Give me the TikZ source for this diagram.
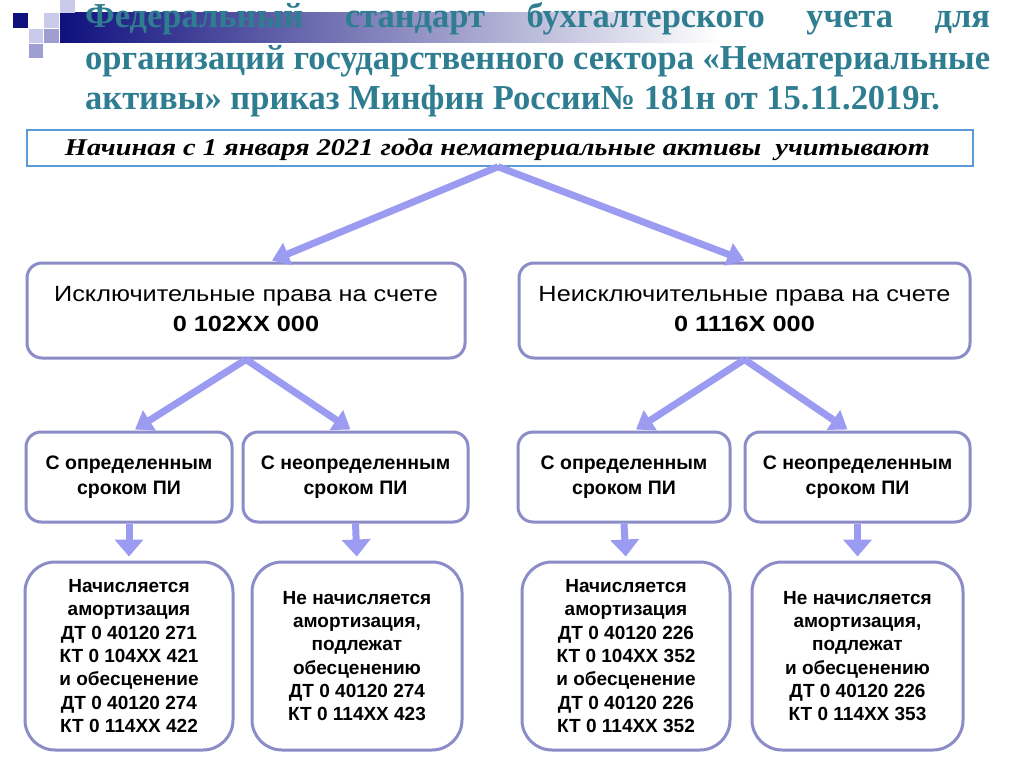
\documentclass[tikz,border=0pt]{standalone}
\usepackage{fontspec}
\usepackage{graphicx}
\setmainfont{Liberation Sans}
\newfontfamily\tserif{Liberation Serif}
\usetikzlibrary{arrows.meta,calc}
\definecolor{titlec}{HTML}{2E7D91}
\definecolor{navyc}{HTML}{10107E}
\definecolor{lightsq}{HTML}{CACAEA}
\definecolor{medsq}{HTML}{9E9ED2}
\definecolor{hdrblue}{HTML}{5B9BD5}
\definecolor{boxc}{HTML}{8C8CC8}
\definecolor{arrc}{HTML}{9B9BF2}
\newsavebox\tlineb
\newsavebox\hdrb
\newcommand\tfnt{\tserif\bfseries\fontsize{35}{41}\selectfont}
\newcommand\wideone[2]{\scalebox{1.15}[1]{\begin{tabular}{@{}c@{}}#1\\\textbf{#2}\end{tabular}}}
\tikzset{
  lvlone/.style={draw=boxc, line width=3pt, rounded corners=15pt, fill=white, minimum height=95pt, align=center, inner sep=0pt, font=\fontsize{22}{29.5}\selectfont},
  lvltwo/.style={draw=boxc, line width=3pt, rounded corners=15pt, fill=white, minimum height=90pt, align=center, inner sep=0pt, font=\bfseries\fontsize{19.5}{25}\selectfont},
  lvlthree/.style={draw=boxc, line width=3pt, rounded corners=30pt, fill=white, minimum height=188pt, align=center, inner sep=0pt, font=\bfseries\fontsize{19}{23.3}\selectfont},
  diagarr/.style={draw=arrc, line width=7pt, -{Triangle[width=23pt,length=17pt]}},
  vertarr/.style={draw=arrc, line width=7pt, -{Triangle[width=28pt,length=17pt]}, shorten >=4pt},
  titletext/.style={anchor=base west, inner sep=0pt, text=titlec}
}
\begin{document}
\global\setbox\tlineb=\hbox{\tfnt организаций государственного сектора «Нематериальные}%
\global\setbox\hdrb=\hbox{\tserif\bfseries\itshape\fontsize{24}{28}\selectfont Начиная с 1 января 2021 года нематериальные активы~ учитывают}%
\begin{tikzpicture}[x=1pt,y=-1pt]
\pgfmathsetmacro\tsx{905/\wd\tlineb}
\pgfmathsetmacro\twd{905/\tsx}
\pgfmathsetmacro\hsx{865/\wd\hdrb}
\useasboundingbox (0,0) rectangle (1024,767);
\fill[white] (0,0) rectangle (1024,767);
% decoration
\shade[left color=navyc, right color=white] (60,13) rectangle (720,43);
\fill[navyc] (13,13) rectangle (28,28);
\fill[lightsq] (44,13) rectangle (59,28);
\fill[lightsq] (60,0) rectangle (75,13);
\fill[lightsq] (29,29) rectangle (43,43);
\fill[medsq] (44,29) rectangle (59,43);
\fill[medsq] (29,44) rectangle (43,58);
% title
\node[titletext] (t1) at (85,28) {\scalebox{\tsx}[1]{\hbox to \twd pt{\tfnt Федеральный\hfill стандарт\hfill бухгалтерского\hfill учета\hfill для}}};
\node[titletext] (t2) at (85,70) {\scalebox{\tsx}[1]{\usebox\tlineb}};
\node[titletext] (t3) at (85,110) {\scalebox{\tsx}[1]{\tfnt активы» приказ Минфин России№ 181н от 15.11.2019г.}};
% header
\node[draw=hdrblue, line width=1.5pt, fill=white, minimum width=946pt, minimum height=36pt, inner sep=0pt] (h) at (500,148) {};
\node[anchor=base, inner sep=0pt] (ht) at (497.5,156) {\scalebox{\hsx}[1]{\usebox\hdrb}};
% level 1
\node[lvlone, minimum width=438pt] (b1) at (246,310.5) {\wideone{Исключительные права на счете}{0 102XX 000}};
\node[lvlone, minimum width=451pt] (b2) at (744.5,310.5) {\wideone{Неисключительные права на счете}{0 1116X 000}};
% level 2
\node[lvltwo, minimum width=206pt] (c1) at (129,477) {С определенным\\сроком ПИ};
\node[lvltwo, minimum width=225pt] (c2) at (355.5,477) {С неопределенным\\сроком ПИ};
\node[lvltwo, minimum width=212pt] (c3) at (624,477) {С определенным\\сроком ПИ};
\node[lvltwo, minimum width=225pt] (c4) at (857.5,477) {С неопределенным\\сроком ПИ};
% level 3
\node[lvlthree, minimum width=208pt] (d1) at (129,656) {Начисляется\\амортизация\\ДТ 0 40120 271\\КТ 0 104XX 421\\и обесценение\\ДТ 0 40120 274\\КТ 0 114XX 422};
\node[lvlthree, minimum width=210pt] (d2) at (357,656) {Не начисляется\\амортизация,\\подлежат\\обесценению\\ДТ 0 40120 274\\КТ 0 114XX 423};
\node[lvlthree, minimum width=208pt] (d3) at (626,656) {Начисляется\\амортизация\\ДТ 0 40120 226\\КТ 0 104XX 352\\и обесценение\\ДТ 0 40120 226\\КТ 0 114XX 352};
\node[lvlthree, minimum width=211pt] (d4) at (857.5,656) {Не начисляется\\амортизация,\\подлежат\\и обесценению\\ДТ 0 40120 226\\КТ 0 114XX 353};
% arrows
\draw[diagarr] ($(h.south)+(-2,0)$) -- ($(b1.north)+(26,-1)$);
\draw[diagarr] ($(h.south)+(-2,0)$) -- ($(b2.north)+(0,-1)$);
\draw[diagarr] (b1.south) -- ($(c1.north)+(6,-1)$);
\draw[diagarr] (b1.south) -- ($(c2.north)+(-5,-1)$);
\draw[diagarr] (b2.south) -- ($(c3.north)+(12,-1)$);
\draw[diagarr] (b2.south) -- ($(c4.north)+(-10,-1)$);
\draw[vertarr] (c1.south) -- (d1.north);
\draw[vertarr] (c2.south) -- (d2.north);
\draw[vertarr] (c3.south) -- (d3.north);
\draw[vertarr] (c4.south) -- (d4.north);
\end{tikzpicture}
\end{document}
